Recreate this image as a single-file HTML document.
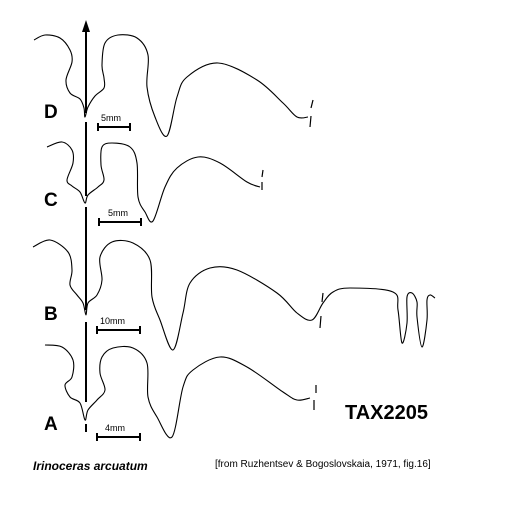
<!DOCTYPE html>
<html><head><meta charset="utf-8"><style>
html,body{margin:0;padding:0;background:#fff;}
svg{display:block;}
text{font-family:"Liberation Sans",sans-serif;fill:#000;}
</style></head><body>
<svg id="fig" width="510" height="528" viewBox="0 0 510 528">
<g id="lines" fill="none" stroke="#000" stroke-width="1.1"></g>
<g stroke="#000" stroke-width="2">
<line x1="86" y1="30" x2="86" y2="113"/>
<line x1="86" y1="122" x2="86" y2="196"/>
<line x1="86" y1="207" x2="86" y2="310"/>
<line x1="86" y1="322" x2="86" y2="402"/>
<line x1="86" y1="424" x2="86" y2="432"/>
</g>
<polygon points="86,20 82,32 90,32" fill="#000"/>
<g stroke="#000" stroke-width="2">
<line x1="98" y1="127" x2="130" y2="127"/><line x1="98" y1="123" x2="98" y2="131"/><line x1="130" y1="123" x2="130" y2="131"/>
<line x1="99" y1="222" x2="141" y2="222"/><line x1="99" y1="218" x2="99" y2="226"/><line x1="141" y1="218" x2="141" y2="226"/>
<line x1="97" y1="330" x2="140" y2="330"/><line x1="97" y1="326" x2="97" y2="334"/><line x1="140" y1="326" x2="140" y2="334"/>
<line x1="97" y1="437" x2="140" y2="437"/><line x1="97" y1="433" x2="97" y2="441"/><line x1="140" y1="433" x2="140" y2="441"/>
</g>
<g stroke="#000" stroke-width="1.2">
<line x1="313" y1="100" x2="311" y2="108"/><line x1="311" y1="116" x2="310" y2="127"/>
<line x1="263" y1="170" x2="262" y2="177"/><line x1="262" y1="182" x2="262" y2="190"/>
<line x1="323" y1="293" x2="322" y2="302"/><line x1="321" y1="316" x2="320" y2="328"/>
<line x1="316" y1="385" x2="316" y2="393"/><line x1="314" y1="400" x2="314" y2="410"/>
</g>
<text x="101" y="121" font-size="9">5mm</text>
<text x="108" y="216" font-size="9">5mm</text>
<text x="100" y="324" font-size="9">10mm</text>
<text x="105" y="431" font-size="9">4mm</text>
<text x="44" y="118" font-size="19" font-weight="bold">D</text>
<text x="44" y="206" font-size="19" font-weight="bold">C</text>
<text x="44" y="320" font-size="19" font-weight="bold">B</text>
<text x="44" y="430" font-size="19" font-weight="bold">A</text>
<text x="345" y="419" font-size="20" font-weight="bold">TAX2205</text>
<text x="33" y="470" font-size="12" font-weight="bold" font-style="italic">Irinoceras arcuatum</text>
<text x="215" y="467" font-size="10">[from Ruzhentsev &amp; Bogoslovskaia, 1971, fig.16]</text>
</svg>
<script>
const sutureD=[[34,40],[45,35],[60,38],[70,50],[72,62],[66,80],[70,93],[80,99],[84,108],[85,117],[88,107],[95,96],[104,88],[104,78],[102,65],[105,43],[118,35],[137,38],[148,55],[147,87],[155,117],[167,136],[177,97],[187,77],[218,63],[257,80],[283,103],[297,117],[308,117]];
const sutureC=[[47,147],[62,142],[72,150],[73,163],[67,180],[72,186],[80,192],[85,203],[88,195],[98,187],[104,180],[101,165],[102,147],[112,143],[130,147],[137,163],[138,197],[145,212],[153,221],[165,187],[177,168],[198,157],[220,163],[247,182],[260,187]];
const sutureB=[[33,247],[50,240],[68,252],[72,270],[70,285],[77,295],[83,303],[86,315],[88,303],[97,295],[102,280],[100,257],[112,242],[133,243],[150,260],[152,297],[160,320],[173,350],[183,313],[190,283],[210,268],[237,270],[277,293],[297,313],[312,320],[323,303],[333,292],[350,288],[393,292],[398,310],[402,343],[407,323],[407,297],[412,293],[417,302],[417,317],[422,347],[427,320],[427,300],[430,295],[435,298]];
const sutureA=[[45,345],[62,347],[73,360],[72,377],[65,385],[70,397],[80,403],[85,420],[88,410],[97,400],[105,390],[100,373],[102,357],[113,348],[133,348],[147,363],[148,397],[157,417],[172,437],[183,387],[193,370],[220,357],[247,367],[283,392],[297,400],[310,398]];
function pathFrom(p){
  let d='M'+p[0][0]+','+p[0][1];
  for(let i=0;i<p.length-1;i++){
    const p0=p[i-1]||p[i],p1=p[i],p2=p[i+1],p3=p[i+2]||p2;
    const c1=[p1[0]+(p2[0]-p0[0])/6,p1[1]+(p2[1]-p0[1])/6];
    const c2=[p2[0]-(p3[0]-p1[0])/6,p2[1]-(p3[1]-p1[1])/6];
    d+=' C'+c1[0].toFixed(1)+','+c1[1].toFixed(1)+' '+c2[0].toFixed(1)+','+c2[1].toFixed(1)+' '+p2[0]+','+p2[1];
  }
  return d;
}
const g=document.getElementById('lines');
[['suture-d',sutureD],['suture-c',sutureC],['suture-b',sutureB],['suture-a',sutureA]].forEach(([n,pts])=>{
  const el=document.createElementNS('http://www.w3.org/2000/svg','path');
  el.setAttribute('d',pathFrom(pts));
  
  
  g.appendChild(el);
});
</script>
</body></html>
